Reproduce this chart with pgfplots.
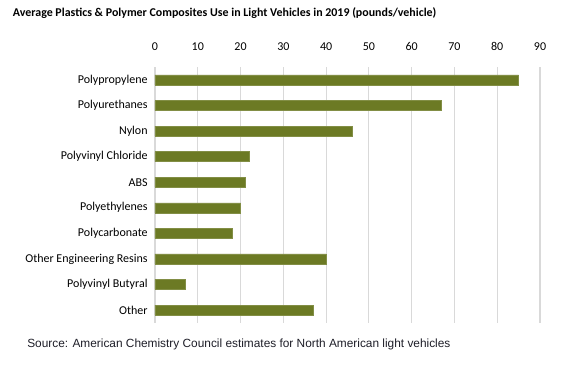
\documentclass[border=0pt]{standalone}
\usepackage{pgfplots}
\pgfplotsset{compat=1.18}
\usepackage{fontspec}
\setmainfont{Carlito}
\newfontfamily\arialfont{Liberation Sans}
\definecolor{barc}{RGB}{108,122,36}
\definecolor{gridc}{RGB}{217,217,217}
\definecolor{srcc}{RGB}{30,30,40}
\begin{document}
\begin{tikzpicture}
\path[use as bounding box] (0pt,0pt) rectangle (432pt,289.5pt);
\node[anchor=west,inner sep=0pt,font=\bfseries\fontsize{8.95}{10}\selectfont] at (9.5pt,279.5pt) {Average Plastics \& Polymer Composites Use in Light Vehicles in 2019 (pounds/vehicle)};
\node[anchor=west,inner sep=0pt,font=\arialfont\fontsize{8.9}{10}\selectfont,text=srcc] at (20.25pt,31.5pt) {Source: American Chemistry Council estimates for North American light vehicles};
\begin{axis}[
  at={(116.25pt,47.4pt)}, anchor=south west,
  scale only axis,
  width=288.75pt, height=191.7pt,
  xbar, bar width=7.5pt,
  xmin=0, xmax=90, ymin=0.5, ymax=10.5,
  y dir=reverse,
  xtick={0,10,...,90},
  ytick={1,...,10},
  yticklabels={Polypropylene,Polyurethanes,Nylon,Polyvinyl Chloride,ABS,Polyethylenes,Polycarbonate,Other Engineering Resins,Polyvinyl Butyral,Other},
  xticklabel pos=top,
  major tick length=0pt,
  axis line style={draw=none},
  xmajorgrids, grid style={gridc, line width=0.8pt},
  /pgf/number format/assume math mode=true,
  tick label style={font=\fontsize{9}{10}\selectfont, text=black},
  xticklabel style={yshift=9pt},
  yticklabel style={xshift=-2pt},
]
\addplot[fill=barc, draw=barc!85!white] coordinates {
(85,1) (67,2) (46,3) (22,4) (21,5) (20,6) (18,7) (40,8) (7,9) (37,10)};
\end{axis}
\end{tikzpicture}
\end{document}
